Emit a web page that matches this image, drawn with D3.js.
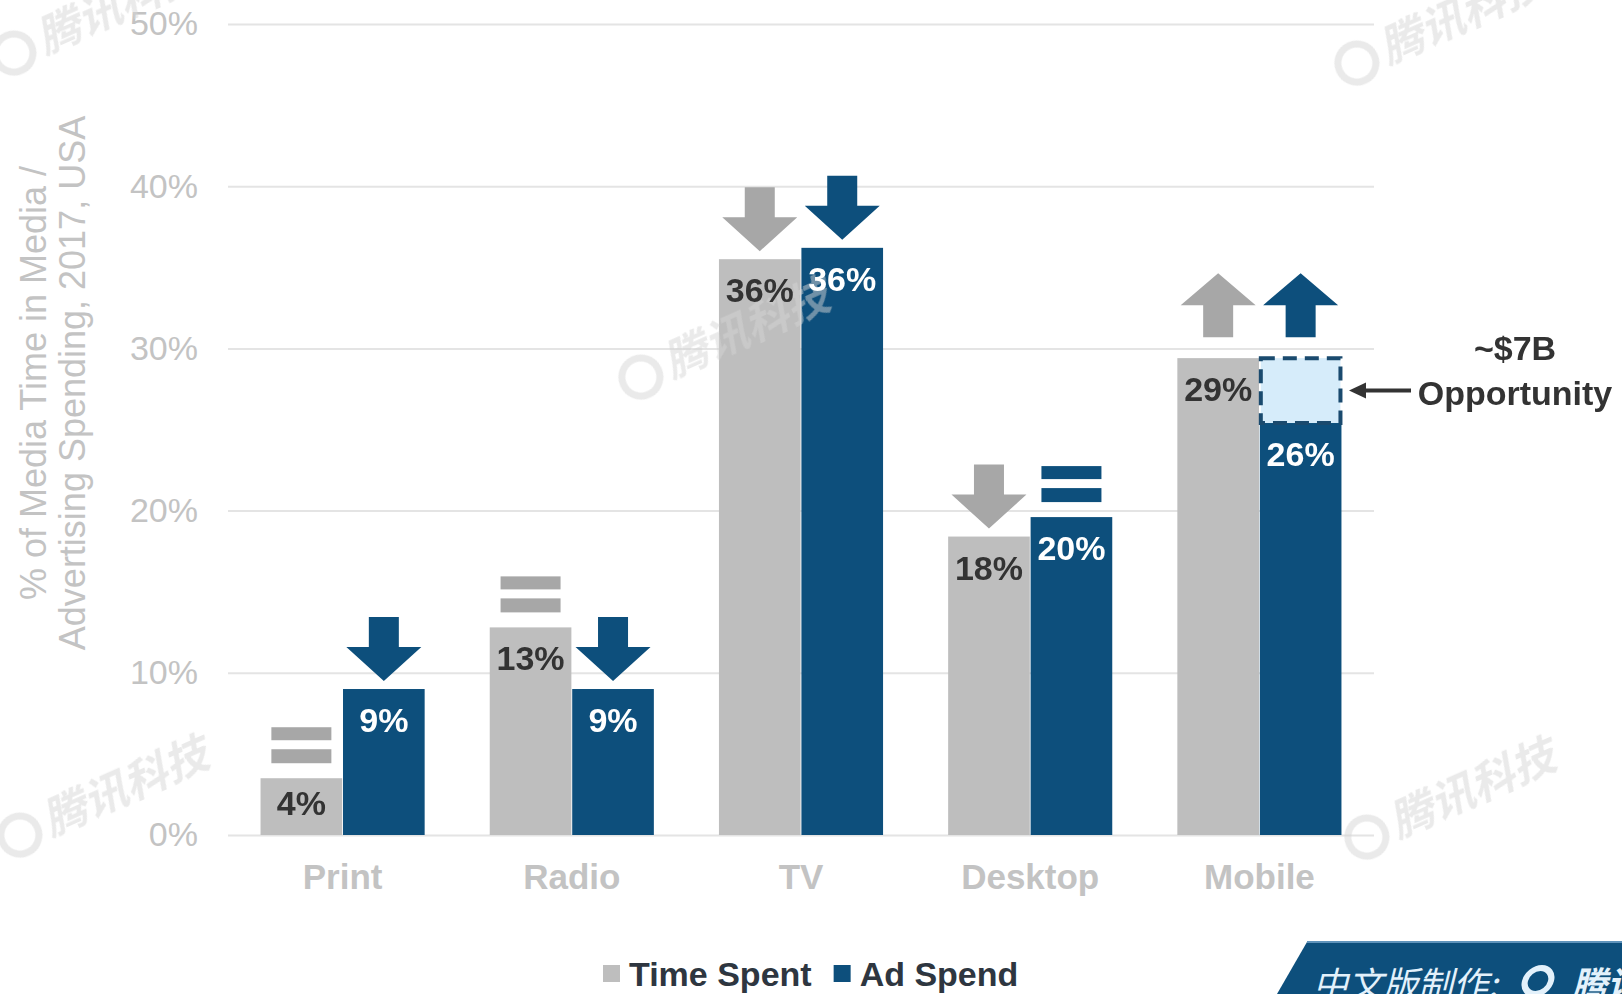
<!DOCTYPE html>
<html>
<head>
<meta charset="utf-8">
<script src="https://cdn.jsdelivr.net/npm/d3@7"></script>
<style>
  body { margin: 0; background: #fff; }
  svg { display: block; font-family: "Liberation Sans", Arial, Helvetica, sans-serif; }
</style>
</head>
<body>
<div id="chart"></div>
<script>
// Data (percent of total, USA 2017)
var categories = ["Print", "Radio", "TV", "Desktop", "Mobile"];
var series = ["Time Spent", "Ad Spend"];
var timeSpent = [3.5, 12.8, 35.5, 18.4, 29.4];
var adSpend = [9.0, 9.0, 36.2, 19.6, 25.4];
var timeLabels = ["4%", "13%", "36%", "18%", "29%"];
var adLabels = ["9%", "9%", "36%", "20%", "26%"];
var timeTrend = ["same", "same", "down", "down", "up"];
var adTrend = ["down", "down", "down", "same", "up"];
var yTicks = [0, 10, 20, 30, 40, 50];
var yTitle = ["% of Media Time in Media /", "Advertising Spending, 2017, USA"];
var opportunity = { category: "Mobile", from: 25.4, to: 29.4, amount: "~$7B", label: "Opportunity" };
var watermarks = [[100, 30], [1443, 40], [727, 354], [106, 812], [1453, 814]];

var width = 1622,
    height = 994;

var gray = "#bebebe",
    grayMark = "#a7a7a7",
    blue = "#0d4f7c",
    faint = "#c3c3c3";

var svg = d3.select("#chart").append("svg")
    .attr("width", width)
    .attr("height", height);

var x = d3.scaleBand()
    .domain(categories)
    .range([228, 1374])
    .paddingInner(0.284)
    .paddingOuter(0.142);

var xs = d3.scaleBand()
    .domain(series)
    .range([0, x.bandwidth()])
    .paddingInner(0.01);

var y = d3.scaleLinear()
    .domain([0, 50])
    .range([835, 24]);

// Gridlines + tick labels
var yAxis = svg.append("g")
    .attr("transform", "translate(228,0)")
    .call(d3.axisLeft(y)
      .tickValues(yTicks)
      .tickSize(-(1374 - 228))
      .tickPadding(30)
      .tickFormat(function(d) { return d + "%"; }));

yAxis.select(".domain").remove();
yAxis.selectAll(".tick line")
    .style("stroke", "#e4e4e4")
    .style("stroke-width", 2);
yAxis.selectAll(".tick text")
    .style("fill", faint)
    .style("font-size", "34px")
    .style("font-family", "inherit");

// Category labels
var xAxis = svg.append("g")
    .attr("transform", "translate(0," + y(0) + ")")
    .call(d3.axisBottom(x).tickSize(0).tickPadding(29));

xAxis.select(".domain").remove();
xAxis.selectAll(".tick text")
    .style("fill", faint)
    .style("font-size", "35px")
    .style("font-weight", "bold")
    .style("font-family", "inherit");

// Y title
svg.append("g")
    .selectAll("text")
    .data(yTitle)
  .enter().append("text")
    .attr("transform", function(d, i) { return "translate(" + (46 + i * 39) + ",383) rotate(-90)"; })
    .attr("text-anchor", "middle")
    .style("fill", faint)
    .style("font-size", "36px")
    .text(function(d) { return d; });

// Flatten bar data
var bars = [];
categories.forEach(function(c, i) {
  bars.push({ cat: c, key: series[0], value: timeSpent[i], label: timeLabels[i], trend: timeTrend[i] });
  bars.push({ cat: c, key: series[1], value: adSpend[i], label: adLabels[i], trend: adTrend[i] });
});

function barX(d) { return x(d.cat) + xs(d.key); }
function isTime(d) { return d.key === series[0]; }

// Bars
svg.append("g")
    .selectAll("rect")
    .data(bars)
  .enter().append("rect")
    .attr("x", barX)
    .attr("y", function(d) { return y(d.value); })
    .attr("width", xs.bandwidth())
    .attr("height", function(d) { return y(0) - y(d.value); })
    .style("fill", function(d) { return isTime(d) ? gray : blue; });

// Opportunity box (dashed, above the Mobile ad bar)
var oppX = x(opportunity.category) + xs(series[1]);
svg.append("rect")
    .attr("x", oppX + 1)
    .attr("y", y(opportunity.to))
    .attr("width", xs.bandwidth() - 2)
    .attr("height", y(opportunity.from) - y(opportunity.to))
    .style("fill", "#d6ecfa")
    .style("stroke", "#1a4a6e")
    .style("stroke-width", 4)
    .style("stroke-dasharray", "14,8");

// Watermarks
var wm = svg.append("g")
    .style("opacity", 0.5)
    .selectAll("g")
    .data(watermarks)
  .enter().append("g")
    .attr("transform", function(d) { return "translate(" + d[0] + "," + d[1] + ") rotate(-24)"; });

wm.append("circle")
    .attr("cx", -88)
    .attr("cy", -14)
    .attr("r", 19)
    .style("fill", "none")
    .style("stroke", "#d4d4d4")
    .style("stroke-width", 7);

wm.append("text")
    .attr("x", -60)
    .attr("transform", "skewX(-14)")
    .style("font-family", "'Noto Sans CJK SC', sans-serif")
    .style("font-weight", "bold")
    .style("font-size", "44px")
    .style("fill", "#d4d4d4")
    .text("腾讯科技");

// Trend marks above bars
function markTop(d) {
  if (d.cat === opportunity.category && !isTime(d)) return y(Math.max(d.value, opportunity.to));
  return y(d.value);
}

var marks = svg.append("g")
    .selectAll("g")
    .data(bars)
  .enter().append("g")
    .attr("transform", function(d) {
      return "translate(" + (barX(d) + xs.bandwidth() / 2) + "," + markTop(d) + ")";
    })
    .style("fill", function(d) { return isTime(d) ? grayMark : blue; });

marks.filter(function(d) { return d.trend === "down"; })
  .append("path")
    .attr("d", "M-15,-72H15V-42H37.5L0,-8L-37.5,-42H-15Z");

marks.filter(function(d) { return d.trend === "up"; })
  .append("path")
    .attr("d", "M-15,-21H15V-53H37.5L0,-85L-37.5,-53H-15Z");

var same = marks.filter(function(d) { return d.trend === "same"; });
same.append("rect")
    .attr("x", -30).attr("y", -51)
    .attr("width", 60).attr("height", 13);
same.append("rect")
    .attr("x", -30).attr("y", -29)
    .attr("width", 60).attr("height", 14);

// Value labels
svg.append("g")
    .selectAll("text")
    .data(bars)
  .enter().append("text")
    .attr("x", function(d) { return barX(d) + xs.bandwidth() / 2; })
    .attr("y", function(d) {
      var h = y(0) - y(d.value);
      return y(d.value) + Math.min(43, h - 20);
    })
    .attr("text-anchor", "middle")
    .style("font-size", "34px")
    .style("font-weight", "bold")
    .style("fill", function(d) { return isTime(d) ? "#333" : "#fff"; })
    .text(function(d) { return d.label; });

// Opportunity callout
var oppMid = (y(opportunity.to) + y(opportunity.from)) / 2;
svg.append("line")
    .attr("x1", 1362).attr("x2", 1411)
    .attr("y1", oppMid).attr("y2", oppMid)
    .style("stroke", "#333")
    .style("stroke-width", 4);
svg.append("path")
    .attr("d", "M1349," + oppMid + "l17,-8v16z")
    .style("fill", "#333");

svg.append("text")
    .attr("x", 1515)
    .attr("y", oppMid - 31)
    .attr("text-anchor", "middle")
    .style("font-size", "34px")
    .style("font-weight", "bold")
    .style("fill", "#333")
    .text(opportunity.amount);
svg.append("text")
    .attr("x", 1515)
    .attr("y", oppMid + 14)
    .attr("text-anchor", "middle")
    .style("font-size", "34px")
    .style("font-weight", "bold")
    .style("fill", "#333")
    .text(opportunity.label);

// Legend
var legend = svg.append("g")
    .attr("transform", "translate(603,986)");
var lx = 0;
series.forEach(function(s, i) {
  legend.append("rect")
      .attr("x", lx)
      .attr("y", -21)
      .attr("width", 17)
      .attr("height", 17)
      .style("fill", i === 0 ? gray : blue);
  var t = legend.append("text")
      .attr("x", lx + 26)
      .style("font-size", "34px")
      .style("font-weight", "bold")
      .style("fill", "#2e3640")
      .text(s);
  lx += 26 + t.node().getComputedTextLength() + 22;
});

// Corner banner
svg.append("path")
    .attr("d", "M1307,942H1622V994H1277Z")
    .style("fill", blue);
svg.append("line")
    .attr("x1", 1307).attr("x2", 1622)
    .attr("y1", 942).attr("y2", 942)
    .style("stroke", "#5f93bb")
    .style("stroke-width", 2);

var banner = svg.append("g")
    .attr("transform", "translate(1313,997) skewX(-14)")
    .style("fill", "#e3f1fb")
    .style("font-family", "'Noto Sans CJK SC', sans-serif")
    .style("font-size", "35px");
banner.append("text")
    .text("中文版制作:");
banner.append("circle")
    .attr("cx", 221)
    .attr("cy", -16)
    .attr("r", 13)
    .style("fill", "none")
    .style("stroke", "#e3f1fb")
    .style("stroke-width", 6);
banner.append("text")
    .attr("x", 259)
    .style("font-weight", "bold")
    .text("腾讯科技");
</script>
</body>
</html>
